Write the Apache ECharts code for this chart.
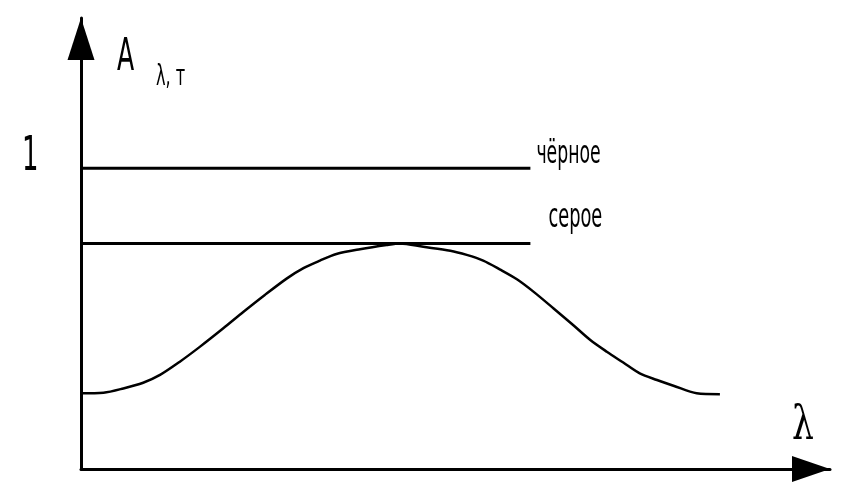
<!DOCTYPE html>
<html><head><meta charset="utf-8">
<script src="https://cdn.jsdelivr.net/npm/echarts@6/dist/echarts.min.js"></script>
<style>html,body{margin:0;padding:0;background:#fff}#c{width:850px;height:488px}</style>
</head><body><div id="c"></div>
<script>
// Absorptivity A(λ,T) — schematic
const curveX = [0, 3.0, 5.65, 8.3, 10.55, 13.2, 15.9, 19.0, 21.7, 24.5, 27.5, 29.7, 31.9, 34.1, 37.25, 40.8, 42.6, 45.7, 49.3, 51.5, 53.7, 55.9, 58.2, 60.4, 63.1, 65.7, 68.0, 70.2, 72.4, 74.6, 76.9, 79.1, 82.2, 85.3];
const curveY = [0.252, 0.254, 0.268, 0.287, 0.313, 0.357, 0.407, 0.468, 0.523, 0.578, 0.634, 0.668, 0.693, 0.715, 0.731, 0.745, 0.75, 0.739, 0.726, 0.712, 0.693, 0.664, 0.631, 0.590, 0.534, 0.479, 0.429, 0.390, 0.354, 0.318, 0.296, 0.277, 0.252, 0.249];
const blackX = [0, 60];
const blackY = [1, 1];
const greyX = [0, 60];
const greyY = [0.75, 0.75];
const labelBlack = 'чёрное';
const labelGrey = 'серое';
const yTickLabel = '1';
const yName = 'A';
const ySub = 'λ, т';
const xName = 'λ';

const zip = (xs, ys) => xs.map((x, i) => [x, ys[i]]);
const chart = echarts.init(document.getElementById('c'));
const narrow = '"DejaVu Sans Condensed", "DejaVu Sans", sans-serif';

chart.setOption({
  animation: false,
  grid: { left: 81, right: 20, top: 18, bottom: 19 },
  xAxis: {
    type: 'value', min: 0, max: 100,
    axisLine: { show: true, onZero: false, lineStyle: { color: '#000', width: 3 },
      symbol: ['none', 'triangle'], symbolSize: [26, 38], symbolOffset: [0, -19] },
    axisTick: { show: false }, axisLabel: { show: false }, splitLine: { show: false }
  },
  yAxis: {
    type: 'value', min: 0, max: 1.5,
    axisLine: { show: true, onZero: false, lineStyle: { color: '#000', width: 3 },
      symbol: ['none', 'triangle'], symbolSize: [27, 42], symbolOffset: [0, -21] },
    axisTick: { show: false }, axisLabel: { show: false }, splitLine: { show: false }
  },
  series: [
    { type: 'line', data: zip(blackX, blackY), symbol: 'none', lineStyle: { color: '#000', width: 3 } },
    { type: 'line', data: zip(greyX, greyY), symbol: 'none', lineStyle: { color: '#000', width: 3 } },
    { type: 'line', data: zip(curveX, curveY), symbol: 'none', smooth: 0.3, lineStyle: { color: '#000', width: 2.5 } }
  ]
});

function txt(text, x, y, size, scaleX, family, align) {
  return { type: 'text', x: x, y: y, scaleX: scaleX, scaleY: 1, originX: 0, originY: 0,
    style: { text: text, font: size + 'px ' + family, fill: '#000', textAlign: align || 'left', textVerticalAlign: 'middle' } };
}
const pBlack = chart.convertToPixel({ gridIndex: 0 }, [blackX[1], blackY[1]]);
const pGrey = chart.convertToPixel({ gridIndex: 0 }, [greyX[1], greyY[1]]);
const pOne = chart.convertToPixel({ gridIndex: 0 }, [0, 1]);
chart.setOption({
  graphic: [
    txt(yTickLabel, 22, pOne[1] - 11, 48, 0.6, narrow),
    txt(yName, 117, 58, 45, 0.62, narrow),
    txt(ySub, 156, 77, 29, 0.62, narrow),
    txt(labelBlack, pBlack[0] + 6, pBlack[1] - 14, 32, 0.6, narrow),
    txt(labelGrey, pGrey[0] + 18, pGrey[1] - 25, 33, 0.6, narrow),
    txt(xName, 792, 427, 46, 0.75, '"DejaVu Serif", "Liberation Serif", serif')
  ]
});
</script></body></html>
